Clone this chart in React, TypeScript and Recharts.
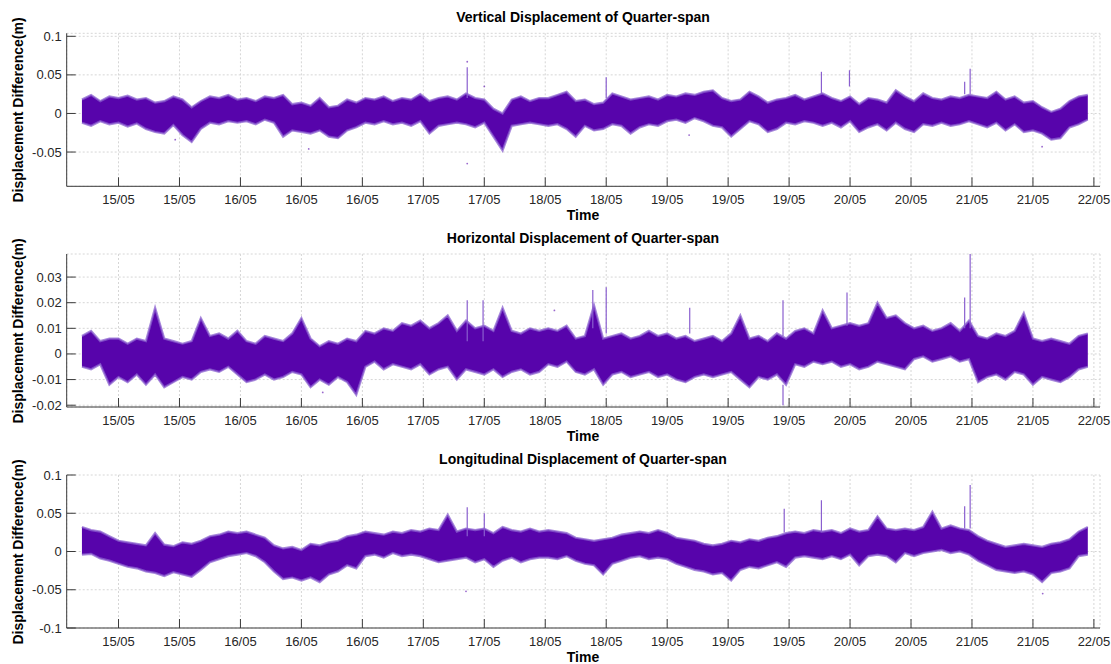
import {
  Area,
  CartesianGrid,
  ComposedChart,
  ReferenceLine,
  Scatter,
  XAxis,
  YAxis,
} from "recharts";

document.body.style.margin = "0";

// sampling grid of the envelopes (hours from the first tick)
const T0 = -6;
const STEP = 1.5;

const TICK_HOURS = [0, 10, 20, 30, 40, 50, 60, 70, 80, 90, 100, 110, 120, 130, 140, 150, 160];
const TICK_LABELS = [
  "15/05", "15/05", "16/05", "16/05", "16/05", "17/05", "17/05", "18/05", "18/05",
  "19/05", "19/05", "19/05", "20/05", "20/05", "21/05", "21/05", "22/05",
];

// envelopes, in mm
const V_HI = [
  18, 24, 16, 22, 20, 23, 18, 20, 14, 16,
  22, 18, 8, 16, 22, 20, 24, 18, 20, 16,
  22, 20, 24, 12, 14, 10, 20, 8, 10, 18,
  14, 20, 18, 22, 16, 20, 18, 25, 16, 20,
  22, 18, 26, 20, 18, 6, 0, 18, 22, 16,
  20, 20, 24, 28, 16, 18, 12, 14, 26, 22,
  18, 20, 22, 18, 24, 22, 26, 24, 28, 30,
  20, 16, 18, 28, 22, 14, 18, 20, 24, 18,
  22, 26, 20, 16, 22, 12, 20, 18, 14, 30,
  22, 16, 26, 20, 18, 22, 20, 24, 22, 20,
  28, 18, 22, 14, 16, 8, 2, 6, 16, 22,
  24,
];
const V_LO = [
  -12, -16, -10, -14, -12, -17, -13, -20, -24, -26,
  -15, -28, -37, -20, -12, -14, -10, -12, -10, -14,
  -8, -12, -30, -22, -24, -26, -22, -30, -32, -22,
  -18, -12, -14, -10, -14, -12, -16, -10, -26, -16,
  -14, -12, -14, -18, -12, -30, -48, -16, -14, -12,
  -14, -16, -14, -20, -30, -16, -22, -20, -14, -16,
  -26, -18, -14, -16, -10, -8, -12, -6, -10, -16,
  -18, -30, -20, -10, -14, -24, -20, -12, -14, -10,
  -12, -16, -12, -18, -10, -24, -18, -14, -22, -12,
  -20, -24, -14, -16, -12, -16, -14, -10, -14, -18,
  -12, -22, -14, -24, -22, -26, -34, -32, -18, -14,
  -8,
];
// [hour, from, to] in mm
const V_SPIKES = [
  [57.2, 20, 60], [80, 20, 47], [115.3, 25, 54], [119.9, 35, 56], [138.8, 25, 41], [139.7, 25, 58],
];
const V_DOTS = [
  [57.2, 67], [57.2, -65], [60, 35], [31.2, -46], [9.3, -34], [93.6, -28], [151.5, -43],
];

const H_HI = [
  7, 9, 5, 6, 6, 4, 6, 5, 18, 6,
  5, 4, 5, 14, 7, 8, 6, 9, 5, 4,
  7, 6, 5, 8, 14, 6, 3, 5, 4, 6,
  5, 9, 8, 10, 9, 12, 11, 13, 10, 12,
  15, 9, 13, 10, 11, 9, 18, 9, 8, 10,
  9, 10, 9, 11, 6, 7, 19, 6, 7, 8,
  6, 7, 9, 7, 8, 6, 7, 5, 6, 7,
  5, 8, 15, 6, 7, 5, 8, 6, 9, 10,
  8, 17, 10, 11, 12, 11, 12, 20, 14, 15,
  12, 10, 11, 9, 10, 12, 9, 13, 7, 6,
  8, 7, 9, 16, 6, 5, 6, 5, 4, 7,
  8,
];
const H_LO = [
  -5, -6, -4, -12, -9, -11, -8, -12, -8, -13,
  -11, -9, -10, -7, -6, -7, -5, -8, -11, -10,
  -8, -10, -9, -7, -8, -13, -10, -12, -9, -11,
  -16, -5, -3, -6, -4, -5, -6, -4, -8, -6,
  -5, -10, -6, -7, -8, -6, -9, -7, -6, -8,
  -7, -4, -5, -3, -7, -8, -6, -12, -8, -7,
  -9, -8, -7, -9, -8, -10, -11, -9, -8, -9,
  -8, -7, -10, -13, -9, -10, -8, -12, -4, -5,
  -3, -4, -3, -5, -4, -6, -5, -3, -4, -5,
  -6, -2, -1, -3, -2, -1, -3, -2, -11, -9,
  -8, -10, -7, -8, -12, -9, -10, -11, -9, -6,
  -5,
];
const H_SPIKES = [
  [57.2, 5, 21], [59.8, 5, 21], [77.8, 10, 25], [80, 8, 26], [93.7, 8, 18], [109, 7, 21],
  [109, -12, -20], [119.5, 11, 24], [138.8, 10, 22], [139.7, 10, 39],
];
const H_DOTS = [[33.5, -15], [71.5, 17]];

const L_HI = [
  32, 28, 26, 20, 14, 12, 10, 8, 24, 9,
  7, 12, 10, 14, 20, 22, 26, 24, 26, 22,
  18, 8, 4, 6, 2, 10, 8, 12, 14, 20,
  22, 26, 24, 22, 26, 24, 28, 26, 30, 28,
  48, 26, 30, 28, 30, 24, 32, 28, 26, 30,
  26, 28, 26, 24, 18, 16, 14, 16, 18, 22,
  24, 26, 24, 28, 24, 18, 16, 14, 10, 8,
  10, 14, 12, 16, 14, 18, 20, 24, 26, 24,
  28, 26, 28, 24, 30, 26, 28, 46, 30, 28,
  30, 28, 32, 52, 30, 34, 30, 28, 20, 14,
  10, 6, 8, 10, 8, 6, 10, 12, 16, 26,
  32,
];
const L_LO = [
  -4, -3, -9, -12, -16, -20, -22, -26, -28, -32,
  -27, -30, -33, -24, -14, -10, -6, -4, -2, -6,
  -14, -26, -36, -34, -38, -34, -40, -30, -26, -18,
  -22, -6, -4, -8, -2, -6, -4, -6, -10, -14,
  -12, -10, -8, -14, -10, -20, -12, -8, -14, -10,
  -8, -8, -10, -6, -12, -16, -18, -30, -16, -12,
  -8, -6, -10, -8, -10, -16, -20, -24, -26, -30,
  -28, -38, -24, -20, -22, -18, -14, -20, -8, -6,
  -8, -10, -6, -10, -4, -18, -6, -4, -6, -14,
  -2, -6, -2, 0, 2, -2, 0, -4, -12, -18,
  -24, -26, -28, -26, -30, -40, -28, -26, -22, -6,
  -4,
];
const L_SPIKES = [
  [57.2, 20, 58], [60, 20, 50], [109.2, 25, 56], [115.3, 25, 67], [138.8, 30, 59], [139.7, 30, 87],
];
const L_DOTS = [[57, -52], [151.6, -55]];

const PURPLE = "#5704ab";
const FRINGE = "#8a5fcf";
const AXIS = "#3a3a3a";
const INK = "#262626";
const GRID = "#d6d6d6";
const FONT = "'Liberation Sans', Arial, Helvetica, sans-serif";

const X_DOMAIN: [number, number] = [-8.5, 161];
const PLOT_H = 153;
const PLOT_LEFT = 66.7;
const Y_AXIS_W = 50;

type Panel = {
  title: string;
  top: number;
  domain: [number, number];
  ticks: number[];
  hi: number[];
  lo: number[];
  spikes: number[][];
  dots: number[][];
};

const PANELS: Panel[] = [
  {
    title: "Vertical Displacement of Quarter-span",
    top: 33.3,
    domain: [-0.0944, 0.1039],
    ticks: [-0.05, 0, 0.05, 0.1],
    hi: V_HI,
    lo: V_LO,
    spikes: V_SPIKES,
    dots: V_DOTS,
  },
  {
    title: "Horizontal Displacement of Quarter-span",
    top: 254,
    domain: [-0.0207, 0.039],
    ticks: [-0.02, -0.01, 0, 0.01, 0.02, 0.03],
    hi: H_HI,
    lo: H_LO,
    spikes: H_SPIKES,
    dots: H_DOTS,
  },
  {
    title: "Longitudinal Displacement of Quarter-span",
    top: 475,
    domain: [-0.1, 0.1],
    ticks: [-0.1, -0.05, 0, 0.05, 0.1],
    hi: L_HI,
    lo: L_LO,
    spikes: L_SPIKES,
    dots: L_DOTS,
  },
];

function bandRows(hi: number[], lo: number[]) {
  return hi.map((h, i) => ({ t: T0 + STEP * i, band: [lo[i] / 1000, h / 1000] }));
}

function XTick(props: any) {
  const { x, y, payload } = props;
  const idx = TICK_HOURS.indexOf(payload.value);
  return (
    <g>
      <line x1={x} x2={x} y1={y} y2={y - 9} stroke={AXIS} strokeWidth={1} />
      <text x={x} y={y + 18} textAnchor="middle" fontSize={13} fontFamily={FONT} fill={INK}>
        {TICK_LABELS[idx]}
      </text>
    </g>
  );
}

function YTick(props: any) {
  const { x, y, payload } = props;
  return (
    <g>
      <line x1={x} x2={x + 9} y1={y} y2={y} stroke={AXIS} strokeWidth={1} />
      <text x={x - 5} y={y + 4.5} textAnchor="end" fontSize={13} fontFamily={FONT} fill={INK}>
        {String(payload.value)}
      </text>
    </g>
  );
}

function PanelChart({ p }: { p: Panel }) {
  const bottom = 664 - (p.top + PLOT_H);
  return (
    <div style={{ position: "absolute", left: 0, top: 0 }}>
      <ComposedChart
        width={1111}
        height={664}
        data={bandRows(p.hi, p.lo)}
        margin={{ top: p.top, right: 11, bottom: bottom - 30, left: PLOT_LEFT - Y_AXIS_W }}
      >
        <CartesianGrid stroke={GRID} strokeWidth={1} strokeDasharray="2 2" />
        <XAxis
          type="number"
          dataKey="t"
          domain={X_DOMAIN}
          ticks={TICK_HOURS}
          interval={0}
          allowDataOverflow
          height={30}
          tickSize={0}
          tickMargin={0}
          tickLine={false}
          axisLine={{ stroke: AXIS }}
          tick={XTick}
        />
        <YAxis
          type="number"
          domain={p.domain}
          ticks={p.ticks}
          interval={0}
          allowDataOverflow
          width={Y_AXIS_W}
          tickSize={0}
          tickMargin={0}
          tickLine={false}
          axisLine={{ stroke: AXIS }}
          tick={YTick}
        />
        <Area
          type="linear"
          dataKey="band"
          stroke={FRINGE}
          strokeWidth={2.2}
          strokeOpacity={0.75}
          fill={PURPLE}
          fillOpacity={1}
          isAnimationActive={false}
        />
        {p.spikes.map((s, i) => (
          <ReferenceLine
            key={i}
            segment={[
              { x: s[0], y: s[1] / 1000 },
              { x: s[0], y: s[2] / 1000 },
            ]}
            stroke={FRINGE}
            strokeWidth={1.2}
          />
        ))}
        <Scatter
          data={p.dots.map((d) => ({ t: d[0], v: d[1] / 1000 }))}
          dataKey="v"
          isAnimationActive={false}
          shape={(s: any) => <circle cx={s.cx} cy={s.cy} r={0.9} fill={PURPLE} fillOpacity={0.6} />}
        />
      </ComposedChart>
    </div>
  );
}

export default function App() {
  return (
    <div style={{ position: "relative", width: 1111, height: 664, background: "#fff", fontFamily: FONT }}>
      {PANELS.map((p, i) => (
        <PanelChart key={i} p={p} />
      ))}
      {PANELS.map((p, i) => (
        <div key={"t" + i}>
          <div
            style={{
              position: "absolute",
              left: 283,
              width: 600,
              top: p.top - 24,
              textAlign: "center",
              fontSize: 14,
              fontWeight: "bold",
              color: "#000",
              lineHeight: "16px",
            }}
          >
            {p.title}
          </div>
          <div
            style={{
              position: "absolute",
              left: 483,
              width: 200,
              top: p.top + PLOT_H + 21,
              textAlign: "center",
              fontSize: 14,
              fontWeight: "bold",
              color: "#000",
              lineHeight: "16px",
            }}
          >
            Time
          </div>
          <div
            style={{
              position: "absolute",
              left: 18 - 150,
              width: 300,
              top: p.top + PLOT_H / 2 - 9,
              textAlign: "center",
              fontSize: 14,
              fontWeight: "bold",
              color: "#000",
              lineHeight: "18px",
              transform: "rotate(-90deg)",
            }}
          >
            Displacement Difference(m)
          </div>
        </div>
      ))}
    </div>
  );
}
